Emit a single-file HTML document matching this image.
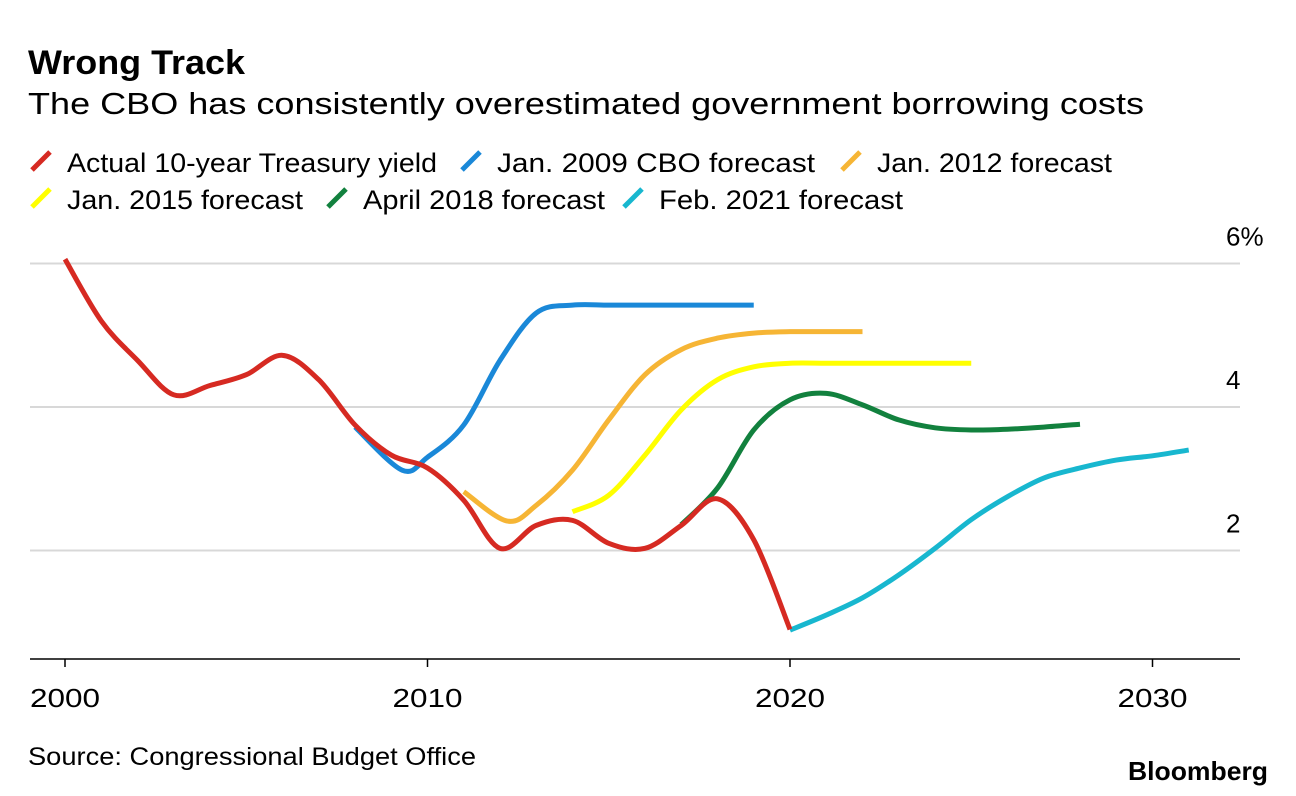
<!DOCTYPE html>
<html><head><meta charset="utf-8"><style>
body{margin:0;background:#fff;width:1296px;height:796px;overflow:hidden;font-family:"Liberation Sans",Arial,sans-serif;}
</style></head><body>
<svg id="c" width="1296" height="796" style="position:absolute;left:0;top:0">
<text x="28" y="74" font-size="34" font-weight="bold" fill="#000" textLength="217" lengthAdjust="spacingAndGlyphs">Wrong Track</text>
<text x="28" y="114" font-size="31" fill="#000" textLength="1116" lengthAdjust="spacingAndGlyphs">The CBO has consistently overestimated government borrowing costs</text>
<g id="legend"></g>
<g id="grid"></g>
<g id="series"></g>
<line x1="30" x2="1240" y1="659" y2="659" stroke="#000" stroke-width="1.5"/>
<g id="xt"></g>
<text x="28" y="765" font-size="25" fill="#000" textLength="448" lengthAdjust="spacingAndGlyphs">Source: Congressional Budget Office</text>
<text x="1128" y="780" font-size="26" font-weight="bold" fill="#000" textLength="140" lengthAdjust="spacingAndGlyphs">Bloomberg</text>
</svg>
<script>
const yTicks=[2,4,6];
const yTickLabels=["2","4","6%"];
const xTicks=[2000,2010,2020,2030];
const actualYears=[2000,2001,2002,2003,2004,2005,2006,2007,2008,2009,2010,2011,2012,2013,2014,2015,2016,2017,2018,2019,2020];
const actualVals=[6.06,5.2,4.65,4.17,4.3,4.45,4.72,4.38,3.75,3.33,3.15,2.7,2.03,2.35,2.42,2.1,2.03,2.35,2.72,2.15,0.9];
const f2009Years=[2008,2009.3,2010,2011,2012,2013,2014,2015,2016,2017,2018,2019];
const f2009Vals=[3.72,3.12,3.3,3.75,4.65,5.31,5.42,5.42,5.42,5.42,5.42,5.42];
const f2012Years=[2011,2012.2,2013,2014,2015,2016,2017,2018,2019,2020,2021,2022];
const f2012Vals=[2.82,2.41,2.63,3.12,3.82,4.45,4.8,4.96,5.03,5.05,5.05,5.05];
const f2015Years=[2014,2015,2016,2017,2018,2019,2020,2021,2022,2023,2024,2025];
const f2015Vals=[2.54,2.77,3.33,3.96,4.38,4.56,4.61,4.61,4.61,4.61,4.61,4.61];
const f2018Years=[2017,2018,2019,2020,2021,2022,2023,2024,2025,2026,2027,2028];
const f2018Vals=[2.36,2.87,3.68,4.1,4.19,4.03,3.82,3.71,3.68,3.69,3.72,3.76];
const f2021Years=[2020,2021,2022,2023,2024,2025,2026,2027,2028,2029,2030,2031];
const f2021Vals=[0.89,1.1,1.34,1.66,2.03,2.43,2.75,3.01,3.15,3.26,3.32,3.4];
const legendLabels=["Actual 10-year Treasury yield","Jan. 2009 CBO forecast","Jan. 2012 forecast","Jan. 2015 forecast","April 2018 forecast","Feb. 2021 forecast"];
const colors=["#d62a22","#1a88d8","#f6b535","#ffff00","#12813e","#18b7cf"];

const X=y=>65+(y-2000)*36.25;
const Y=v=>694-v*71.75;
const NS="http://www.w3.org/2000/svg";
function mk(t,a,p){const e=document.createElementNS(NS,t);for(const k in a)e.setAttribute(k,a[k]);p.appendChild(e);return e;}
const grid=document.getElementById('grid');
yTicks.forEach((v,i)=>{
 const l=mk('line',{x1:30,x2:1240,y1:Y(v),y2:Y(v),stroke:'#d8d8d8','stroke-width':2},grid);
 
 
 const t=mk('text',{x:1226,y:Y(v)-18,'font-size':26,fill:'#000'},grid);
 t.textContent=yTickLabels[i];
 
 
});
const xt=document.getElementById('xt');
xTicks.forEach(v=>{
 mk('line',{x1:X(v),x2:X(v),y1:659,y2:667,stroke:'#000','stroke-width':1.5},xt);
 const t=mk('text',{x:X(v)-35,y:707,'font-size':26,fill:'#000',textLength:70,lengthAdjust:'spacingAndGlyphs'},xt);
 t.textContent=v;
 
 
});
function path(xs,vs){
 const p=xs.map((x,i)=>[X(x),Y(vs[i])]);
 let d='M'+p[0][0]+','+p[0][1];
 for(let i=0;i<p.length-1;i++){
  const p0=p[i-1]||p[i],p1=p[i],p2=p[i+1],p3=p[i+2]||p2;
  const c1=[p1[0]+(p2[0]-p0[0])/6,p1[1]+(p2[1]-p0[1])/6];
  const c2=[p2[0]-(p3[0]-p1[0])/6,p2[1]-(p3[1]-p1[1])/6];
  d+=` C${c1[0]},${c1[1]} ${c2[0]},${c2[1]} ${p2[0]},${p2[1]}`;
 }
 return d;
}
const sg=document.getElementById('series');
const S=[[f2009Years,f2009Vals,1,'line-jan-2009-forecast'],[f2012Years,f2012Vals,2,'line-jan-2012-forecast'],[f2015Years,f2015Vals,3,'line-jan-2015-forecast'],[f2018Years,f2018Vals,4,'line-april-2018-forecast'],[f2021Years,f2021Vals,5,'line-feb-2021-forecast'],[actualYears,actualVals,0,'line-actual-yield']];
S.forEach(s=>{
 const e=mk('path',{d:path(s[0],s[1]),fill:'none',stroke:colors[s[2]],'stroke-width':5,'stroke-linecap':'butt'},sg);
 
 
});
const lg=document.getElementById('legend');
const lpos=[[30,172,370],[460,172,318],[840,172,235],[30,209,236],[326,209,242],[622,209,244]];
legendLabels.forEach((t,i)=>{
 const [x,y,w]=lpos[i];
 const g=mk('g',{},lg);
 
 
 mk('line',{x1:x+2,y1:y-2,x2:x+20,y2:y-20,stroke:colors[i],'stroke-width':5},g);
 const tx=mk('text',{x:x+37,y:y,'font-size':27,fill:'#000',textLength:w,lengthAdjust:'spacingAndGlyphs'},g);
 tx.textContent=t;
});
</script>
</body></html>
